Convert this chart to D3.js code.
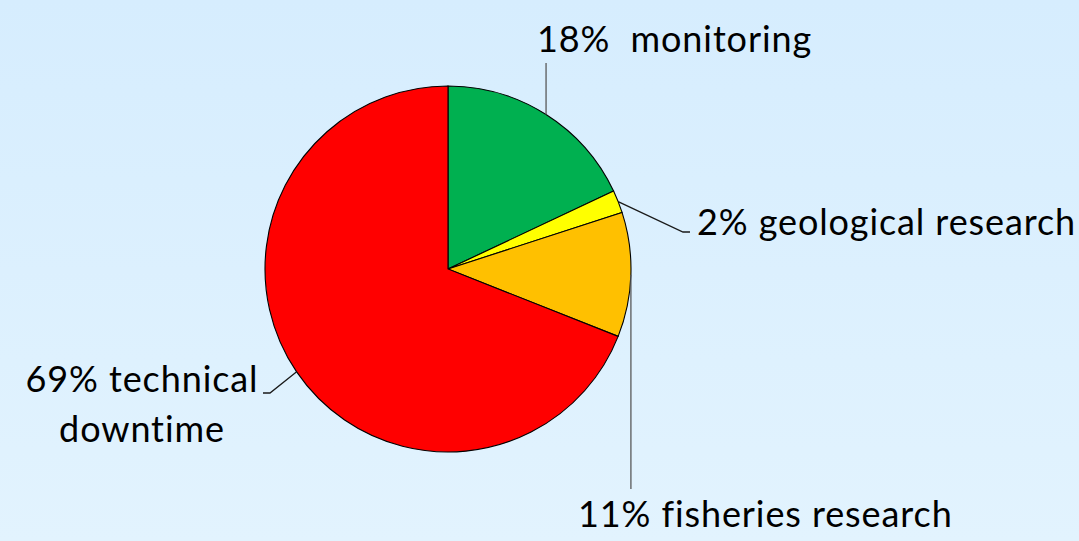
<!DOCTYPE html>
<html>
<head>
<meta charset="utf-8">
<script src="https://cdn.jsdelivr.net/npm/d3@7"></script>
<style>
  html, body { margin: 0; padding: 0; }
  body { width: 1079px; height: 541px; overflow: hidden; }
  text { font-family: Lato, "Noto Sans", sans-serif; fill: #000; }
</style>
</head>
<body>
<div id="chart"></div>
<script>
var categories = ["monitoring", "geological research", "fisheries research", "technical downtime"];
var shares = [18, 2, 11, 69];
var labels = [["18%  monitoring"], ["2% geological research"], ["11% fisheries research"], ["69% technical", "downtime"]];
var colors = ["#00b050", "#ffff00", "#ffc000", "#ff0000"];

var width = 1079, height = 541;
var cx = 448, cy = 269, radius = 183;

var svg = d3.select("#chart").append("svg")
            .attr("width", width)
            .attr("height", height);

var grad = svg.append("defs").append("linearGradient")
              .attr("id", "bg")
              .attr("x1", 0).attr("y1", 0).attr("x2", 0).attr("y2", 1);
grad.append("stop").attr("offset", "0%").attr("stop-color", "#d6edfe");
grad.append("stop").attr("offset", "100%").attr("stop-color", "#e2f3fe");

svg.append("rect")
   .attr("width", width)
   .attr("height", height)
   .attr("fill", "url(#bg)");

var g = svg.append("g")
           .attr("transform", "translate(" + cx + "," + cy + ")");

var pie = d3.pie().sort(null).value(d => d);
var arcs = pie(shares);

var arc = d3.arc().innerRadius(0).outerRadius(radius);

g.selectAll("path.slice")
  .data(arcs)
  .enter().append("path")
    .attr("class", "slice")
    .attr("d", arc)
    .attr("fill", (d, i) => colors[i])
    .attr("stroke", "#000")
    .attr("stroke-width", 1.1);

// point on the rim at the middle of each slice
function rim(d) {
  var a = (d.startAngle + d.endAngle) / 2;
  return [radius * Math.sin(a), -radius * Math.cos(a)];
}

// leader line bends and label anchors, relative to the pie centre
var leaders = [
  { bend: null, end: [0, -206], tx: 89, ty: -217, anchor: "start", stroke: "#595959" },
  { bend: [235, -37], end: [242, -37], tx: 249, ty: -34, anchor: "start", stroke: "#1a1a1a" },
  { bend: null, end: [0, 220], tx: 130, ty: 258, anchor: "start", stroke: "#595959" },
  { bend: [-178, 124], end: [-185, 124], tx: -306, ty: 123, anchor: "middle", stroke: "#1a1a1a" }
];

arcs.forEach((d, i) => {
  var p = rim(d), L = leaders[i];
  var pts = [p];
  if (L.bend) { pts.push(L.bend); pts.push(L.end); }
  else { pts.push([p[0], L.end[1]]); }
  g.append("path")
   .attr("d", d3.line()(pts))
   .attr("fill", "none")
   .attr("stroke", L.stroke)
   .attr("stroke-width", 1.3);

  var t = g.append("text")
           .attr("x", L.tx)
           .attr("y", L.ty)
           .attr("text-anchor", L.anchor)
           .style("font-size", "36px")
           .style("letter-spacing", "0.9px");
  labels[i].forEach((line, j) => {
    t.append("tspan")
     .attr("x", L.tx)
     .attr("dy", j === 0 ? 0 : 50)
     .attr("xml:space", "preserve")
     .style("white-space", "pre")
     .text(line);
  });
});
</script>
</body>
</html>
